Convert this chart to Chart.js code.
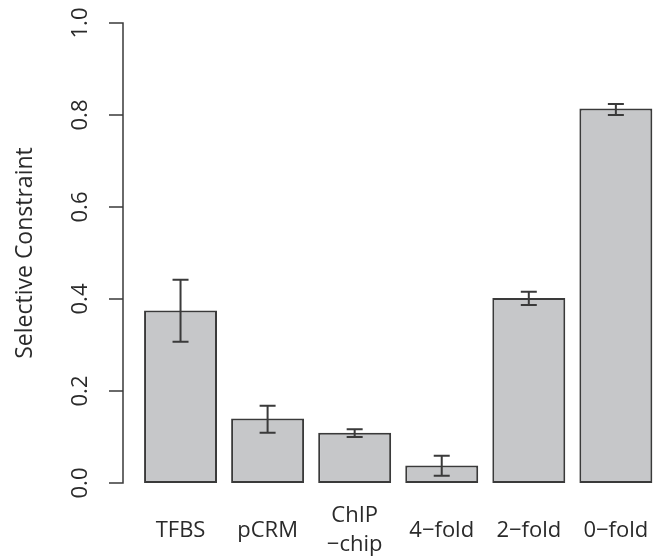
<!DOCTYPE html>
<html>
<head>
<meta charset="utf-8">
<script src="https://cdn.jsdelivr.net/npm/chart.js@4"></script>
<style>
html,body{margin:0;padding:0;background:#fff;}
#wrap{width:661px;height:558px;}
</style>
</head>
<body>
<div id="wrap"><canvas id="c" width="661" height="558"></canvas></div>
<script>
const categories = ["TFBS", "pCRM", ["ChIP", "\u2212chip"], "4\u2212fold", "2\u2212fold", "0\u2212fold"];
const values = [0.375, 0.140, 0.109, 0.038, 0.402, 0.814];
const errLow = [0.307, 0.109, 0.100, 0.016, 0.387, 0.800];
const errHigh = [0.442, 0.168, 0.117, 0.059, 0.416, 0.824];
const yTickValues = [0, 0.2, 0.4, 0.6, 0.8, 1.0];
const yTickLabels = ["0.0", "0.2", "0.4", "0.6", "0.8", "1.0"];
const yTitle = "Selective Constraint";

const FONT = "'Open Sans', sans-serif";
const TEXT = "#2a2a2a";
const LINE = "#3a3a3a";

const errorBars = {
  id: 'errorBars',
  afterDatasetsDraw(chart) {
    const ctx = chart.ctx;
    const meta = chart.getDatasetMeta(0);
    const y = chart.scales.y;
    ctx.save();
    ctx.strokeStyle = LINE;
    ctx.lineWidth = 2;
    meta.data.forEach((bar, i) => {
      const x = bar.x;
      const yt = y.getPixelForValue(errHigh[i]);
      const yb = y.getPixelForValue(errLow[i]);
      ctx.beginPath();
      ctx.moveTo(x, yt); ctx.lineTo(x, yb);
      ctx.moveTo(x - 8, yt); ctx.lineTo(x + 8, yt);
      ctx.moveTo(x - 8, yb); ctx.lineTo(x + 8, yb);
      ctx.stroke();
    });
    ctx.restore();
  }
};

const rAxis = {
  id: 'rAxis',
  afterDraw(chart) {
    const ctx = chart.ctx;
    const y = chart.scales.y;
    const ax = 123;
    ctx.save();
    ctx.strokeStyle = LINE;
    ctx.lineWidth = 1.5;
    ctx.beginPath();
    ctx.moveTo(ax, y.getPixelForValue(yTickValues[0]));
    ctx.lineTo(ax, y.getPixelForValue(yTickValues[yTickValues.length - 1]));
    yTickValues.forEach(v => {
      const py = y.getPixelForValue(v);
      ctx.moveTo(ax + 0.75, py); ctx.lineTo(ax - 14, py);
    });
    ctx.stroke();
    ctx.fillStyle = TEXT;
    ctx.font = "22px " + FONT;
    ctx.textAlign = 'center';
    ctx.textBaseline = 'middle';
    yTickValues.forEach((v, i) => {
      const py = y.getPixelForValue(v);
      ctx.save();
      ctx.translate(81, py);
      ctx.rotate(-Math.PI / 2);
      ctx.fillText(yTickLabels[i], 0, 0);
      ctx.restore();
    });
    ctx.font = "23px " + FONT;
    ctx.save();
    ctx.translate(25, y.getPixelForValue(0.5));
    ctx.rotate(-Math.PI / 2);
    ctx.fillText(yTitle, 0, 0);
    ctx.restore();
    ctx.restore();
  }
};

new Chart(document.getElementById('c'), {
  type: 'bar',
  data: {
    labels: categories,
    datasets: [{
      data: values,
      backgroundColor: '#c6c7c9',
      borderColor: LINE,
      borderWidth: 2,
      borderSkipped: false,
      barPercentage: 0.838,
      categoryPercentage: 1.0
    }]
  },
  options: {
    responsive: false,
    animation: false,
    devicePixelRatio: 1,
    layout: { padding: { left: 137, right: 1.6, top: 23, bottom: 0 } },
    plugins: { legend: { display: false }, tooltip: { enabled: false } },
    scales: {
      x: {
        grid: { display: true, drawOnChartArea: false, drawTicks: true, tickLength: 33, color: 'rgba(0,0,0,0)' },
        border: { display: false },
        ticks: {
          color: TEXT,
          font: { family: FONT, size: 22, lineHeight: 1.3 },
          padding: 0,
          crossAlign: 'center',
          maxRotation: 0,
          minRotation: 0,
          autoSkip: false
        },
        afterFit(scale) { scale.height = 75; }
      },
      y: {
        display: false,
        min: 0,
        max: 1
      }
    }
  },
  plugins: [errorBars, rAxis]
});
</script>
</body>
</html>
